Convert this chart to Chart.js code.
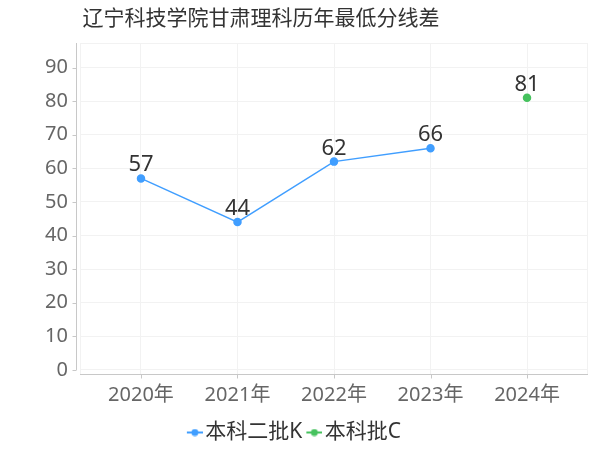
<!DOCTYPE html>
<html><head><meta charset="utf-8">
<script src="https://cdn.jsdelivr.net/npm/chart.js@4/dist/chart.umd.min.js"></script>
<style>html,body{margin:0;padding:0;background:#fff}#w{width:600px;height:450px;position:relative}</style>
</head><body><div id="w"><canvas id="c" width="600" height="450"></canvas></div>
<script>
const title = "辽宁科技学院甘肃理科历年最低分线差";
const categories = ["2020年","2021年","2022年","2023年","2024年"];
const seriesNames = ["本科二批K","本科批C"];
const seriesK = [57,44,62,66,null];
const seriesC = [null,null,null,null,81];
const yTicks = [0,10,20,30,40,50,60,70,80,90];
const colors = ["#409EFF","#46C25E"];
const FONT = '"Noto Sans","Noto Sans CJK SC",sans-serif';

function toPts(arr){ return arr.map((v,i)=>({x:i,y:v})).filter(p=>p.y!==null); }

function legendIcon(color){
  const c=document.createElement('canvas'); c.width=24; c.height=8;
  const g=c.getContext('2d');
  g.strokeStyle=color; g.lineWidth=2; g.beginPath(); g.moveTo(8,4); g.lineTo(24,4); g.stroke();
  g.fillStyle=color; g.beginPath(); g.arc(16,4,3.5,0,Math.PI*2); g.fill();
  return c;
}

const extras = {
  id:'extras',
  beforeDatasetsDraw(chart){
    const {ctx, chartArea:a, scales:{x,y}} = chart;
    ctx.save();
    ctx.strokeStyle='#f2f2f2'; ctx.lineWidth=1;
    ctx.strokeRect(a.left+0.5,a.top+0.5,a.right-a.left-1,a.bottom-a.top);
    ctx.strokeStyle='#c8c8c8';
    const yl = Math.round(a.left-4)+0.5;
    ctx.beginPath(); ctx.moveTo(yl,a.top); ctx.lineTo(yl,y.getPixelForValue(0)); ctx.stroke();
    yTicks.forEach(v=>{const py=Math.round(y.getPixelForValue(v))+0.5; ctx.beginPath(); ctx.moveTo(yl-4,py); ctx.lineTo(yl,py); ctx.stroke();});
    const xb = Math.round(a.bottom)+0.5;
    ctx.beginPath(); ctx.moveTo(a.left,xb); ctx.lineTo(a.right,xb); ctx.stroke();
    categories.forEach((c,i)=>{const px=Math.round(x.getPixelForValue(i))+0.5; ctx.beginPath(); ctx.moveTo(px,xb); ctx.lineTo(px,xb+4); ctx.stroke();});
    ctx.restore();
  },
  afterDraw(chart){
    const {ctx} = chart;
    ctx.save();
    ctx.font = '21px '+FONT; ctx.fillStyle='#333'; ctx.textAlign='center'; ctx.textBaseline='middle';
    ctx.fillText(title, 261, 19);
    ctx.font = '22px '+FONT; ctx.fillStyle='#333'; ctx.textBaseline='alphabetic';
    chart.data.datasets.forEach((ds,di)=>{
      const meta = chart.getDatasetMeta(di);
      meta.data.forEach((el,i)=>{ ctx.fillText(String(ds.data[i].y), el.x, el.y-7); });
    });
    ctx.restore();
  }
};

new Chart(document.getElementById('c'), {
  type:'line',
  data:{ datasets:[
    {label:seriesNames[0], data:toPts(seriesK), borderColor:colors[0], backgroundColor:colors[0], borderWidth:1.5, pointRadius:3.5, pointHoverRadius:3.5, tension:0},
    {label:seriesNames[1], data:toPts(seriesC), borderColor:colors[1], backgroundColor:colors[1], borderWidth:1.5, pointRadius:3.5, pointHoverRadius:3.5, tension:0}
  ]},
  options:{
    responsive:false, animation:false, devicePixelRatio:1,
    layout:{padding:{top:43,right:12,left:0,bottom:-3}},
    scales:{
      x:{type:'linear', min:-0.632, max:4.632,
        grid:{color:'#f2f2f2', drawTicks:false}, border:{display:false},
        afterBuildTicks(s){ s.ticks = categories.map((c,i)=>({value:i})); },
        afterFit(s){ s.height = 44; },
        ticks:{stepSize:1, padding:9, color:'#666', font:{size:20, family:FONT}, callback:(v)=>categories[v]}},
      y:{min:-1.2, max:97.3,
        grid:{color:'#f2f2f2', drawTicks:false}, border:{display:false},
        afterBuildTicks(s){ s.ticks = yTicks.map(v=>({value:v})); },
        afterFit(s){ s.width = 80; },
        ticks:{padding:12, color:'#666', font:{size:20, family:FONT}}}
    },
    plugins:{
      legend:{position:'bottom', labels:{usePointStyle:true, pointStyleWidth:8, color:'#333', font:{size:21, family:FONT}, padding:4,
        generateLabels(chart){ return chart.data.datasets.map((ds,i)=>({text:ds.label, fillStyle:colors[i], strokeStyle:colors[i], fontColor:'#333', pointStyle:legendIcon(colors[i]), datasetIndex:i, hidden:false, lineWidth:0})); }}},
      tooltip:{enabled:false}
    }
  },
  plugins:[extras]
});
</script></body></html>
